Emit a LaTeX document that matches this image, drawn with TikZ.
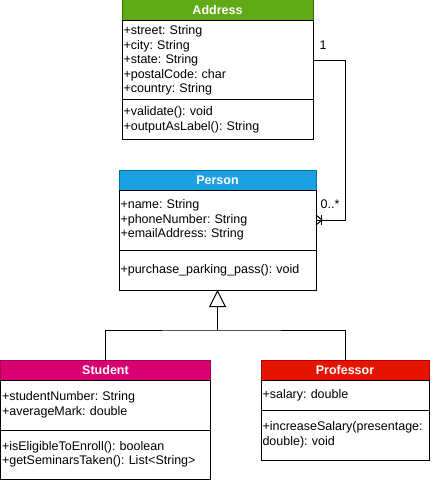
\documentclass[tikz,border=0pt]{standalone}
\usepackage{fontspec}
\setmainfont{Liberation Sans}
\usetikzlibrary{positioning,arrows.meta}
\definecolor{addrfill}{HTML}{60A917}
\definecolor{addrline}{HTML}{2D7600}
\definecolor{persfill}{HTML}{1BA1E2}
\definecolor{persline}{HTML}{006EAF}
\definecolor{studfill}{HTML}{D80073}
\definecolor{studline}{HTML}{A50040}
\definecolor{proffill}{HTML}{E51400}
\definecolor{profline}{HTML}{B20000}
\frenchspacing
\begin{document}
\begin{tikzpicture}[x=1pt,y=-1pt,line width=1pt]
    \tikzstyle{classhead}=[draw, outer sep=0pt, anchor=north west, text=white, font=\bfseries\fontsize{12.5}{14.5}\selectfont]
    \tikzstyle{classpart}=[draw, outer sep=0pt, inner xsep=1.5pt, inner ysep=0pt, align=left, font=\fontsize{12.5}{14.5}\selectfont]
    \tikzstyle{mult}=[inner sep=0pt, font=\fontsize{12.5}{14.5}\selectfont]
    \useasboundingbox (0,0) rectangle (431,481);
    \node (addrhead) [classhead, fill=addrfill, draw=addrline, minimum width=191pt, minimum height=21pt] at (122,0) {Address};
    \node (addrattr) [classpart, below=0pt of addrhead, text width=188pt, minimum height=79pt] {+street: String\\+city: String\\+state: String\\+postalCode: char\\+country: String};
    \node (addrmeth) [classpart, below=0pt of addrattr, text width=188pt, minimum height=40pt] {+validate(): void\\+outputAsLabel(): String};
    \node (pershead) [classhead, fill=persfill, draw=persline, minimum width=197pt, minimum height=20pt] at (119,170) {Person};
    \node (persattr) [classpart, below=0pt of pershead, text width=194pt, minimum height=60pt] {+name: String\\+phoneNumber: String\\+emailAddress: String};
    \node (persmeth) [classpart, below=0pt of persattr, text width=194pt, minimum height=40pt] {+purchase\_parking\_pass(): void};
    \node (studhead) [classhead, fill=studfill, draw=studline, minimum width=210pt, minimum height=20pt] at (0.5,360) {Student};
    \node (studattr) [classpart, below=0pt of studhead, text width=207pt, minimum height=50pt] {+studentNumber: String\\+averageMark: double};
    \node (studmeth) [classpart, below=0pt of studattr, text width=207pt, minimum height=49pt] {+isEligibleToEnroll(): boolean\\+getSeminarsTaken(): List<String>};
    \node (profhead) [classhead, fill=proffill, draw=profline, minimum width=168pt, minimum height=20pt] at (261,360) {Professor};
    \node (profattr) [classpart, below=0pt of profhead, text width=165pt, minimum height=30pt] {+salary: double};
    \node (profmeth) [classpart, below=0pt of profattr, text width=165pt, minimum height=50pt] {+increaseSalary(presentage:\\double): void};
    \draw (addrattr.east) -- ++(32,0) |- (persattr.east);
    \draw (persattr.east) ++(0,-5) -- ++(6,5) -- ++(-6,5);
    \draw ([xshift=5pt]persattr.east) ++(0,-5) -- ++(0,10);
    \node (addrmult) [mult] at ([shift={(10,-15.5)}]addrattr.east) {1};
    \node (persmult) [mult] at ([shift={(14,-16)}]persattr.east) {0..*};
    \coordinate (genjoin) at ([yshift=-40pt]persmeth.south);
    \draw (studhead.north) |- (genjoin) -| (profhead.north);
    \draw[-{Triangle[open,length=17pt,width=17pt]}] (genjoin) -- (persmeth.south);
\end{tikzpicture}
\end{document}
